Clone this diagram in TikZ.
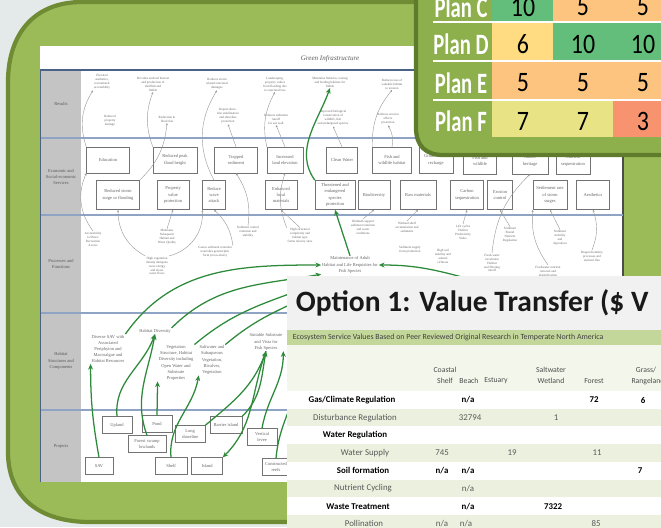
\documentclass[tikz,border=0pt]{standalone}
\usepackage{fontspec}
\setmainfont{Liberation Serif}
\newfontfamily\calib{Carlito}
\usetikzlibrary{arrows.meta}

\definecolor{bggray}{HTML}{E4E9E9}
\definecolor{panelgreen}{HTML}{9BBB59}
\definecolor{paneledge}{HTML}{6F8C35}
\definecolor{tablegreen}{HTML}{8DB04D}
\definecolor{tableedge}{HTML}{5E7C2B}
\definecolor{linkgreen}{HTML}{2D8A3A}
\definecolor{rowblue}{HTML}{8FA4C4}
\definecolor{rownavy}{HTML}{4A6286}
\definecolor{headgray}{HTML}{C4C4C4}
\definecolor{cgreen}{HTML}{63BE7B}
\definecolor{corange}{HTML}{FCC47E}
\definecolor{cyellow}{HTML}{FFDC82}
\definecolor{cpale}{HTML}{E8E384}
\definecolor{csalmon}{HTML}{F8936F}
\definecolor{bannergreen}{HTML}{C4D79B}
\definecolor{stripgreen}{HTML}{EBF1DE}
\definecolor{titlegray}{HTML}{F1F1F1}

\newcommand{\tinytxt}{\fontsize{2.3}{2.8}\selectfont}
\newcommand{\smalltxt}{\fontsize{3.2}{4.4}\selectfont}

\begin{document}
\begin{tikzpicture}[x=0.025cm, y=-0.025cm]
    \tikzstyle{doctext}=[font=\tinytxt, text=black!60, align=center, inner sep=0.5pt]
    \tikzstyle{habtext}=[font=\smalltxt, text=black!60, align=center, inner sep=0.5pt]
    \tikzstyle{docbox}=[habtext, draw=black!55, line width=0.35pt, fill=white, minimum height=0.65cm]
    \tikzstyle{lowbox}=[docbox, minimum height=0.73cm]
    \tikzstyle{projbox}=[habtext, draw=black!55, line width=0.35pt, fill=white, minimum height=0.42cm]
    \tikzstyle{rowlabel}=[font=\smalltxt, text=black!65, align=center]
    \tikzstyle{graylink}=[-{Stealth[length=1.6pt,width=1.4pt]}, color=black!40, line width=0.3pt]
    \tikzstyle{greenlink}=[-{Stealth[length=4pt,width=3.5pt]}, color=linkgreen, line width=0.9pt]
    \tikzstyle{plan}=[font=\calib\bfseries\fontsize{21}{21}\selectfont, text=white, xscale=0.7]
    \tikzstyle{score}=[font=\calib\fontsize{20}{20}\selectfont, xscale=0.85]
    \tikzstyle{colhead}=[font=\calib\fontsize{5.5}{6.5}\selectfont, text=black!70]
    \tikzstyle{esmain}=[font=\calib\bfseries\fontsize{6.3}{7}\selectfont, text=black]
    \tikzstyle{essub}=[font=\calib\fontsize{6.3}{7}\selectfont, text=black!65]
    \tikzset{bw/.style={minimum width=#1*0.025cm}}

    \useasboundingbox (0,0) rectangle (661,527);
    \clip (0,0) rectangle (661,527);
    \fill[bggray] (0,0) rectangle (661,527);

    % green slide panel
    \draw[fill=panelgreen, draw=paneledge, line width=3pt]
        (700,2) -- (82,2) .. controls (34,2) and (8,34) .. (8,82) -- (8,452)
        .. controls (8,498) and (40,522) .. (90,522) -- (700,522) -- cycle;

    % the green infrastructure sheet
    \fill[white] (40,46) rectangle (623,482);
    \draw[black!70, line width=1pt] (623,46) -- (623,482);
    \node[font=\itshape\fontsize{5}{6}\selectfont, text=black!65] (doctitle) at (330,59) {Green Infrastructure};
    \foreach \ya/\yb in {71/137, 139/214, 216/312, 314/409, 411/482}
        \fill[headgray] (40,\ya) rectangle (81,\yb);
    \draw[rownavy, line width=1.5pt] (40,70) -- (623,70);
    \foreach \ly in {138,215,313,410}
        \draw[rowblue, line width=1pt] (40,\ly) -- (623,\ly);
    \draw[rownavy, line width=0.6pt] (40,70) -- (40,482);

    \node[rowlabel] (lresults) at (61,104) {Results};
    \node[rowlabel] (lservices) at (61,177) {Economic and\\Social-economic\\Services};
    \node[rowlabel] (lprocess) at (61,264) {Processes and\\Functions};
    \node[rowlabel] (lhabitat) at (61,361) {Habitat\\Structures and\\Components};
    \node[rowlabel] (lprojects) at (61,446) {Projects};

    % results
    \node[doctext] (res1) at (102,82) {Elevated\\aesthetics,\\recreational\\accessibility};
    \node[doctext] (res2) at (153,84) {Provides seafood harvest\\and production of\\shellfish and\\finfish};
    \node[doctext] (res3) at (217,84) {Reduces storm\\related structural\\damages};
    \node[doctext] (res4) at (275,84) {Landscaping,\\property values\\from flooding due\\to structural loss};
    \node[doctext] (res5) at (330,82) {Maintains fisheries, rearing\\and feeding habitats for\\finfish};
    \node[doctext] (res6) at (392,84) {Reduces loss of\\valuable habitat\\to erosion};
    \node[doctext] (res7) at (110,121) {Reduced\\property\\damage};
    \node[doctext] (res8) at (167,119) {Reduction in\\flood risk};
    \node[doctext] (res9) at (228,116) {Repair shore-\\line stabilization\\and shoreline\\protection};
    \node[doctext] (res10) at (276,119) {Reduces sediment\\runoff\\for sea wall};
    \node[doctext] (res11) at (333,118) {Improved biological\\conservation of\\wildlife, fish\\and endangered species};
    \node[doctext] (res12) at (388,119) {Reduces erosion\\effects\\protection};

    % services, upper line
    \node[docbox, bw=43] (s1) at (108,160) {Education};
    \node[docbox, bw=44] (s2) at (175,160) {Reduced peak\\flood height};
    \node[docbox, bw=43] (s3) at (236,160) {Trapped\\sediment};
    \node[docbox, bw=36] (s4) at (285,160) {Increased\\land elevation};
    \node[docbox, bw=31] (s5) at (342,160) {Clean Water};
    \node[docbox, bw=39] (s6) at (392,160) {Fish and\\wildlife habitat};
    \node[docbox, bw=34] (s7) at (436,160) {Groundwater\\recharge};
    \node[docbox, bw=33] (s8) at (480,161) {Fish and\\wildlife};
    \node[docbox, bw=36] (s9) at (530,161) {Nature\\heritage};
    \node[docbox, bw=34] (s10) at (573,161) {Nutrient\\sequestration};

    % services, lower line
    \node[lowbox, bw=43] (t1) at (118,195) {Reduced storm\\surge or flooding};
    \node[lowbox, bw=32] (t2) at (173,195) {Property\\value\\protection};
    \node[lowbox, bw=23] (t3) at (214,195) {Reduce\\wave\\attack};
    \node[lowbox, bw=32] (t4) at (281,195) {Enhanced\\local\\materials};
    \node[lowbox, bw=40] (t5) at (335,195) {Threatened and\\endangered\\species\\protection};
    \node[lowbox, bw=32] (t6) at (374,195) {Biodiversity};
    \node[lowbox, bw=36] (t7) at (418,195) {Raw materials};
    \node[lowbox, bw=33] (t8) at (467,195) {Carbon\\sequestration};
    \node[lowbox, bw=25] (t9) at (500,195) {Erosion\\control};
    \node[lowbox, bw=34] (t10) at (550,195) {Settlement rate\\of storm\\surges};
    \node[lowbox, bw=33] (t11) at (593,195) {Aesthetics};

    % processes and functions
    \node[doctext] (p1) at (93,239) {Accessibility\\to Shore/\\Recreation\\Access};
    \node[doctext] (p2) at (167,237) {Maintains\\Subaquatic\\Habitat and\\Water Quality};
    \node[doctext] (p3) at (157,266) {High vegetation\\density dampens\\wave energy\\and slows\\water flows};
    \node[doctext] (p4) at (215,252) {Coarse sediment retention\\nourishes geomorphic\\form (cross-shore)};
    \node[doctext] (p5) at (248,232) {Sediment control\\retention and\\stability};
    \node[doctext] (p6) at (300,236) {High structural\\complexity and\\habitat type\\forms nursery sites};
    \node[doctext] (p7) at (363,227) {Wetlands support\\sediment retention\\and water\\conditions};
    \node[doctext] (p8) at (407,227) {Wetland shelf\\accumulation and\\sediments};
    \node[doctext] (p9) at (410,250) {Sediment supply\\from production};
    \node[doctext] (p10) at (463,232) {Life cycles\\Habitat\\Productivity\\Sinks};
    \node[doctext] (p11) at (510,235) {Sediment\\Bound\\Nutrient\\Regulation};
    \node[doctext] (p12) at (443,256) {High soil\\stability and\\animal\\richness};
    \node[doctext] (p13) at (492,263) {Fresh-water\\circulation\\Habitat\\and filtering\\runoff};
    \node[doctext] (p14) at (560,238) {Sediment\\mobility\\and\\deposition};
    \node[doctext] (p15) at (548,271) {Freshwater nutrient\\removal and\\denitrification};
    \node[doctext] (p16) at (592,256) {Biogeochemistry\\processes and\\nutrient flux};
    \node[habtext] (center) at (350,265) {Maintenance of Adult\\Habitat and Life Requisites for\\Fish Species};

    % habitat structures
    \node[habtext] (h1) at (108,349) {Diverse SAV with\\Associated\\Periphyton and\\Macroalgae and\\Habitat Resources};
    \node[habtext] (h2) at (155,331) {Habitat Diversity};
    \node[habtext] (h3) at (176,363) {Vegetation\\Structure, Habitat\\Diversity including\\Open Water and\\Substrate\\Properties};
    \node[habtext] (h4) at (212,360) {Saltwater and\\Subaqueous\\Vegetation,\\Bivalves,\\Vegetation};
    \node[habtext] (h5) at (266,342) {Suitable Substrate\\and Vista for\\Fish Species};

    % projects
    \node[projbox, bw=30] (b1) at (117,425) {Upland};
    \node[projbox, bw=30] (b2) at (157,424) {Pond};
    \node[projbox, bw=38] (b3) at (147,444) {Forest swamp\\lowlands};
    \node[projbox, bw=30] (b4) at (190,434) {Long\\shoreline};
    \node[projbox, bw=32] (b5) at (226,425) {Barrier island};
    \node[projbox, bw=30] (b6) at (262,437) {Vertical\\levee};
    \node[projbox, bw=28] (b7) at (99,466) {SAV};
    \node[projbox, bw=32] (b8) at (171,466) {Shelf};
    \node[projbox, bw=31] (b9) at (207,466) {Island};
    \node[projbox, bw=28] (b10) at (276,467) {Constructed\\reefs};

    % thin grey links
    \path[graylink] (s1.north west) edge[bend left=25] (res1.south west);
    \path[graylink] (t1.north east) edge[bend right=20] (res8.south);
    \path[graylink] (s2.north west) edge[bend left=20] (res2.south);
    \path[graylink] (s3.north) edge (res9.south);
    \path[graylink] (t3.north) edge[bend left=30] (res3.south);
    \path[graylink] (s4.north west) edge[bend left=20] (res4.south);
    \path[graylink] (s4.north) edge (res10.south);
    \path[graylink] (s5.north) edge (res11.south);
    \path[graylink] (s6.north) edge[bend right=20] (res12.south);
    \path[graylink] (s6.north west) edge[bend left=20] (res6.south);
    \path[graylink] (p1.north) edge[bend left=30] (s1.south west);
    \path[graylink] (p3.north west) edge[bend left=30] (t1.south);
    \path[graylink] (p3.north east) edge[bend right=40] (t3.south west);
    \path[graylink] (p2.north) edge (t2.south);
    \path[graylink] (p4.north east) edge[bend right=20] (t3.south);
    \path[graylink] (p5.north) edge[bend right=20] (s3.south);
    \path[graylink] (p6.north) edge (t4.south);
    \path[graylink] (p6.north west) edge[bend left=20] (s4.south);
    \path[graylink] (p7.north) edge (t6.south);
    \path[graylink] (p8.north) edge (t7.south);
    \path[graylink] (p10.north) edge (t8.south);
    \path[graylink] (p11.north) edge (t9.south);
    \path[graylink] (p14.north) edge (t10.south);
    \path[graylink] (p16.north) edge[bend right=20] (t11.south);
    \path[graylink] (p13.north) edge[bend left=20] (s9.south);
    \path[graylink] (p15.north) edge[bend left=20] (t10.south west);

    % green links
    \coordinate (under1) at (300,290);
    \coordinate (under2) at (300,300);
    \coordinate (under3) at (300,372);
    \coordinate (rightsrc) at (462,277);
    \path[greenlink] (center.north) edge (t5.south);
    \path[greenlink] (t5.north west) edge[out=125, in=250] (res5.south);
    \path[greenlink] (h1.north east) edge[out=55, in=180] (center.west);
    \path[greenlink] (h2.north east) edge[out=45, in=190] (center.south west);
    \path[greenlink] (h3.north east) edge[out=40, in=200] (under1);
    \path[greenlink] (h4.north east) edge[out=40, in=205] (under2);
    \path[greenlink] (rightsrc) edge[out=165, in=0] (center.east);
    \path[greenlink] (b7.north) edge[out=100, in=270] (h1.south west);
    \path[greenlink] (b1.north) edge[out=95, in=250] (h2.south);
    \path[greenlink] (b3.north) edge[out=110, in=260] (h2.south);
    \path[greenlink] (b2.north) edge (h3.south west);
    \path[greenlink] (b8.north) edge[out=95, in=260] (h4.south west);
    \path[greenlink] (h5.south) edge[out=250, in=45] (b9.north east);
    \path[greenlink] (b4.north east) edge[out=40, in=250] (h5.south);
    \path[greenlink] (b5.north east) edge[out=45, in=260] (h5.south);
    \path[greenlink] (b6.north) edge[out=80, in=270] (h5.south east);
    \path[greenlink] (b10.north) edge[out=85, in=260] (under3);

    % scoring table panel
    \draw[fill=tablegreen, draw=tableedge, line width=3pt]
        (416,-10) -- (416,128) .. controls (416,146) and (426,155) .. (443,155) -- (680,155) -- (680,-10) -- cycle;
    \fill[cgreen] (492,-20) rectangle (553,21);
    \fill[corange] (553,-20) rectangle (670,21);
    \fill[cyellow] (492,23) rectangle (553,60);
    \fill[cgreen] (553,23) rectangle (670,60);
    \fill[corange] (492,62) rectangle (670,99);
    \fill[cpale] (492,101) rectangle (613,137);
    \fill[csalmon] (613,101) rectangle (670,137);
    \foreach \ly in {22,61,100}
        \draw[white, line width=1.5pt] (433,\ly) -- (670,\ly);

    \node[plan] (planc) at (461,7) {Plan C};
    \node[plan] (pland) at (461,44) {Plan D};
    \node[plan] (plane) at (461,83) {Plan E};
    \node[plan] (planf) at (461,121) {Plan F};
    \node[score] (c1) at (523,7) {10};
    \node[score] (c2) at (583,7) {5};
    \node[score] (c3) at (643,7) {5};
    \node[score] (d1) at (523,44) {6};
    \node[score] (d2) at (583,44) {10};
    \node[score] (d3) at (643,44) {10};
    \node[score] (e1) at (523,83) {5};
    \node[score] (e2) at (583,83) {5};
    \node[score] (e3) at (643,83) {5};
    \node[score] (f1) at (523,121) {7};
    \node[score] (f2) at (583,121) {7};
    \node[score] (f3) at (643,121) {3};

    % value transfer sheet
    \fill[titlegray] (287,276) rectangle (661,330);
    \fill[bannergreen] (287,330) rectangle (661,345);
    \fill[stripgreen!60] (287,345) rectangle (661,391);
    \foreach \k in {0,...,7} {
        \pgfmathsetmacro{\ytop}{391+17.7*\k}
        \pgfmathsetmacro{\ybot}{391+17.7*(\k+1)}
        \pgfmathtruncatemacro{\odd}{mod(\k,2)}
        \ifnum\odd=1
            \fill[stripgreen] (287,\ytop) rectangle (661,\ybot);
        \else
            \fill[white] (287,\ytop) rectangle (661,\ybot);
        \fi
    }
    \node[anchor=west, font=\calib\bfseries\fontsize{21}{21}\selectfont, text=black!90] (optitle) at (291,303) {Option 1: Value Transfer (\$ V};
    \node[anchor=west, font=\calib\fontsize{5.6}{6}\selectfont, text=black!75] (banner) at (288,337.5)
        {Ecosystem Service Values Based on Peer Reviewed Original Research in Temperate North America};

    \node[colhead] (hcoast) at (445,370) {Coastal};
    \node[colhead] (hshelf) at (445,381) {Shelf};
    \node[colhead] (hbeach) at (469,381) {Beach};
    \node[colhead] (hestuary) at (496,381) {Estuary};
    \node[colhead] (hsalt) at (551,370) {Saltwater};
    \node[colhead] (hwet) at (551,381) {Wetland};
    \node[colhead] (hforest) at (594,381) {Forest};
    \node[colhead] (hgrass) at (646,370) {Grass/};
    \node[colhead] (hrange) at (648,381) {Rangeland};

    \node[esmain] (rgas) at (352,400) {Gas/Climate Regulation};
    \node[essub] (rdist) at (355,417.7) {Disturbance Regulation};
    \node[esmain] (rwater) at (355,435.4) {Water Regulation};
    \node[essub] (rsupply) at (365,453.1) {Water Supply};
    \node[esmain] (rsoil) at (363,470.8) {Soil formation};
    \node[essub] (rnutr) at (363,488.5) {Nutrient Cycling};
    \node[esmain] (rwaste) at (358,506.2) {Waste Treatment};
    \node[essub] (rpoll) at (364,523.9) {Pollination};

    \node[esmain] (vgasb) at (468,400) {n/a};
    \node[esmain] (vgasf) at (594,400) {72};
    \node[esmain] (vgasg) at (643,400) {6};
    \node[essub] (vdistb) at (470,417.7) {32794};
    \node[essub] (vdists) at (556,417.7) {1};
    \node[essub] (vsupc) at (442,453.1) {745};
    \node[essub] (vsupe) at (512,453.1) {19};
    \node[essub] (vsupf) at (597,453.1) {11};
    \node[esmain] (vsoilc) at (442,470.8) {n/a};
    \node[esmain] (vsoilb) at (468,470.8) {n/a};
    \node[esmain] (vsoilg) at (640,470.8) {7};
    \node[essub] (vnutb) at (468,488.5) {n/a};
    \node[esmain] (vwasteb) at (468,506.2) {n/a};
    \node[esmain] (vwastes) at (553,506.2) {7322};
    \node[essub] (vpollc) at (442,523.9) {n/a};
    \node[essub] (vpollb) at (466,523.9) {n/a};
    \node[essub] (vpollf) at (596,523.9) {85};
\end{tikzpicture}
\end{document}
